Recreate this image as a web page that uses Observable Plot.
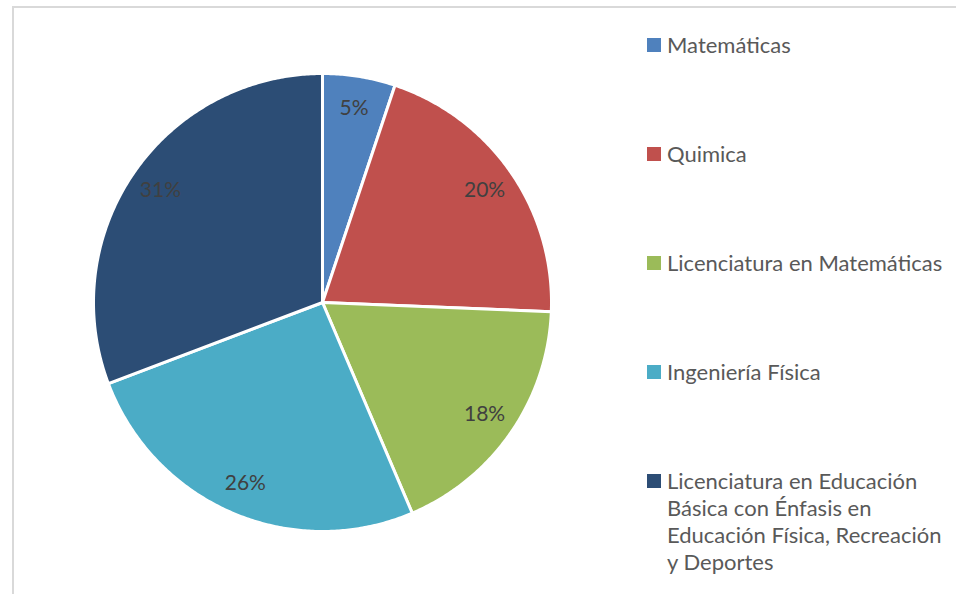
<!DOCTYPE html>
<html>
<head>
<meta charset="utf-8">
<script src="https://cdn.jsdelivr.net/npm/d3@7"></script>
<script src="https://cdn.jsdelivr.net/npm/@observablehq/plot@0.6"></script>
<style>
  html, body { margin: 0; padding: 0; background: #fff; }
  #wrap { position: relative; width: 956px; height: 594px; overflow: hidden; background: #fff; font-family: Lato, "Open Sans", sans-serif; }
  #frame { position: absolute; left: 12px; top: 6px; width: 1100px; height: 1100px; border: 2px solid #d9d9d9; box-sizing: border-box; }
  #chart { position: absolute; left: 0; top: 0; }
  .item { position: absolute; left: 647px; font-size: 22px; color: #595959; line-height: 27px; white-space: pre-line; }
  .sw { position: absolute; left: 0; width: 14px; height: 14px; }
  .lbl { position: absolute; left: 20px; white-space: pre; }
</style>
</head>
<body>
<div id="wrap">
  <div id="frame"></div>
  <div id="chart"></div>
  <div id="legend"></div>
</div>
<script>
const categories = [
  "Matemáticas",
  "Quimica",
  "Licenciatura en Matemáticas",
  "Ingeniería Física",
  "Licenciatura en Educación Básica con Énfasis en Educación Física, Recreación y Deportes"
];
// slice sizes
const values = [2, 8, 7, 10, 12];
const percentLabels = ["5%", "20%", "18%", "26%", "31%"];
const colors = ["#4F81BD", "#C0504D", "#9BBB59", "#4BACC6", "#2C4D75"];
const legendLabels = [
  "Matemáticas",
  "Quimica",
  "Licenciatura en Matemáticas",
  "Ingeniería Física",
  "Licenciatura en Educación\nBásica con Énfasis en\nEducación Física, Recreación\ny Deportes"
];

const rows = categories.map((c, i) => ({category: c, value: values[i], label: percentLabels[i]}));
const arcs = d3.pie().sort(null).value(d => d.value)(rows);

function pt(a, r) { return [r * Math.sin(a), r * Math.cos(a)]; }

const slices = arcs.map(a => {
  const n = Math.max(2, Math.ceil((a.endAngle - a.startAngle) / (Math.PI / 360)));
  const ring = [[0, 0]];
  for (let k = 0; k <= n; k++) ring.push(pt(a.startAngle + (a.endAngle - a.startAngle) * k / n, 1));
  ring.push([0, 0]);
  return {type: "Feature", properties: {category: a.data.category}, geometry: {type: "Polygon", coordinates: [ring]}};
});

const circle = {type: "Feature", geometry: {type: "Polygon", coordinates: [d3.range(0, 361, 2).map(d => pt(d * Math.PI / 180, 1))]}};

const labelPts = arcs.map(a => {
  const m = (a.startAngle + a.endAngle) / 2;
  const [x, y] = pt(m, 0.86);
  return {x, y, text: a.data.label};
});

const chart = Plot.plot({
  width: 551,
  height: 594,
  marginLeft: 93,
  marginRight: 0,
  marginTop: 73,
  marginBottom: 63,
  style: {background: "transparent", fontFamily: "Lato, 'Open Sans', sans-serif"},
  projection: {type: "reflect-y", domain: circle},
  color: {domain: categories, range: colors},
  marks: [
    Plot.geo(slices, {fill: d => d.properties.category, stroke: "white", strokeWidth: 3, strokeLinejoin: "round"}),
    Plot.text(labelPts, {x: "x", y: "y", text: "text", fill: "#404040", fontSize: 21})
  ]
});
document.getElementById("chart").appendChild(chart);

const legend = document.getElementById("legend");
legendLabels.forEach((t, i) => {
  const item = document.createElement("div");
  item.className = "item";
  item.style.top = (31 + i * 109) + "px";
  const sw = document.createElement("div");
  sw.className = "sw";
  sw.style.background = colors[i];
  sw.style.top = "7px";
  const lb = document.createElement("div");
  lb.className = "lbl";
  lb.textContent = t;
  item.appendChild(sw);
  item.appendChild(lb);
  legend.appendChild(item);
});
</script>
</body>
</html>
